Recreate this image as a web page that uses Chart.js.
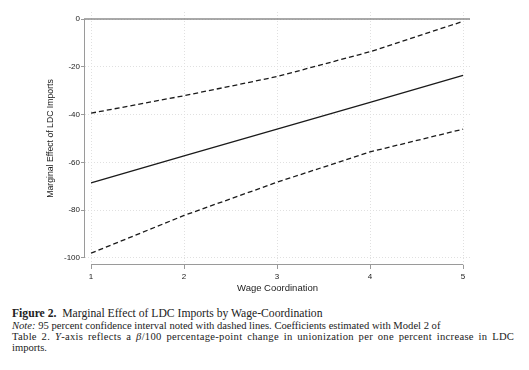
<!DOCTYPE html>
<html>
<head>
<meta charset="utf-8">
<script src="https://cdn.jsdelivr.net/npm/chart.js@4.4.1/dist/chart.umd.min.js"></script>
<style>
  html, body { margin: 0; padding: 0; background: #fff; }
  #wrap { position: relative; width: 529px; height: 370px; overflow: hidden; }
  #box { position: absolute; left: 0; top: 0; width: 529px; height: 300px; }
  #cap { position: absolute; left: 12px; top: 307px; width: 517px; font-family: "Liberation Serif", serif; color: #222; white-space: nowrap; }
  #cap .t { font-size: 11.65px; line-height: 13px; }
  #cap .n { font-size: 10.6px; line-height: 11px; }
  #cap .wide { letter-spacing: 0.3px; word-spacing: 1.8px; }
</style>
</head>
<body>
<div id="wrap">
  <div id="box"><canvas id="c"></canvas></div>
  <div id="cap">
    <div class="t"><b>Figure 2.</b>&nbsp; Marginal Effect of LDC Imports by Wage-Coordination</div>
    <div class="n"><i>Note:</i> 95 percent confidence interval noted with dashed lines. Coefficients estimated with Model 2 of</div>
    <div class="n wide">Table 2. <i>Y</i>-axis reflects a <i>&beta;</i>/100 percentage-point change in unionization per one percent increase in LDC</div>
    <div class="n">imports.</div>
  </div>
</div>
<script>
const wageCoordination = [1, 2, 3, 4, 5];
const marginalEffect = [-68.6, -57.3, -46.1, -34.9, -23.6];
const upperCI = [-39.4, -32.1, -24.1, -13.7, -1.0];
const lowerCI = [-98.0, -82.2, -68.3, -55.6, -46.1];
const xTicks = [1, 2, 3, 4, 5];
const yTicks = [0, -20, -40, -60, -80, -100];

const toPts = (ys) => wageCoordination.map((x, i) => ({ x: x, y: ys[i] }));

const axisPlugin = {
  id: 'stataAxes',
  afterDatasetsDraw(chart) {
    const { ctx, chartArea, scales } = chart;
    const xs = scales.x, ys = scales.y;
    ctx.save();
    ctx.strokeStyle = '#8c8c8c';
    ctx.lineWidth = 1.5;
    const y0 = ys.getPixelForValue(0);
    ctx.beginPath();
    ctx.moveTo(chartArea.left - 1, y0);
    ctx.lineTo(chartArea.right, y0);
    ctx.stroke();
    ctx.strokeStyle = '#9a9a9a';
    ctx.lineWidth = 1;
    ctx.beginPath();
    const lx = Math.round(chartArea.left) - 0.5;
    ctx.moveTo(lx, ys.getPixelForValue(yTicks[0]));
    ctx.lineTo(lx, ys.getPixelForValue(yTicks[yTicks.length - 1]));
    const by = Math.round(chartArea.bottom) - 0.5;
    ctx.moveTo(xs.getPixelForValue(xTicks[0]), by);
    ctx.lineTo(xs.getPixelForValue(xTicks[xTicks.length - 1]), by);
    ctx.stroke();
    ctx.restore();
  }
};

const tickFont = { family: 'Liberation Sans, Arial, sans-serif', size: 8 };

new Chart(document.getElementById('c'), {
  type: 'line',
  data: {
    datasets: [
      { label: 'Upper 95% CI', data: toPts(upperCI), borderColor: '#1a1a1a', borderWidth: 1.3, borderDash: [5, 3], pointRadius: 0, fill: false, tension: 0 },
      { label: 'Marginal effect', data: toPts(marginalEffect), borderColor: '#1a1a1a', borderWidth: 1.3, pointRadius: 0, fill: false, tension: 0 },
      { label: 'Lower 95% CI', data: toPts(lowerCI), borderColor: '#1a1a1a', borderWidth: 1.3, borderDash: [5, 3], pointRadius: 0, fill: false, tension: 0 }
    ]
  },
  options: {
    responsive: true,
    maintainAspectRatio: false,
    animation: false,
    layout: { padding: { left: 0, right: 59, top: 12, bottom: 0 } },
    plugins: { legend: { display: false }, tooltip: { enabled: false } },
    scales: {
      x: {
        type: 'linear',
        min: 0.935,
        max: 5.075,
        afterBuildTicks: (s) => { s.ticks = xTicks.map(v => ({ value: v })); },
        afterFit: (s) => { s.height = 35; },
        border: { display: false, dash: [1, 2] },
        grid: { color: '#e0e0e0', lineWidth: 1, tickColor: '#9a9a9a', tickLength: 4, tickBorderDash: [] },
        ticks: { font: tickFont, color: '#222', padding: 3, maxRotation: 0, callback: (v) => String(v) },
        title: { display: true, text: 'Wage Coordination', font: { family: 'Liberation Sans, Arial, sans-serif', size: 9.5 }, color: '#222', padding: { top: 0, bottom: 6 } }
      },
      y: {
        type: 'linear',
        min: -102.93,
        max: 2.93,
        afterBuildTicks: (s) => { s.ticks = yTicks.map(v => ({ value: v })); },
        afterFit: (s) => { s.width = 85; },
        border: { display: false, dash: [1, 2] },
        grid: { color: '#e0e0e0', lineWidth: 1, tickColor: '#9a9a9a', tickLength: 4, tickBorderDash: [] },
        ticks: { font: tickFont, color: '#222', padding: 1, callback: (v) => String(v) },
        title: { display: true, text: 'Marginal Effect of LDC Imports', font: { family: 'Liberation Sans, Arial, sans-serif', size: 8.7 }, color: '#222', padding: { top: 45, bottom: 0 } }
      }
    }
  },
  plugins: [axisPlugin]
});
</script>
</body>
</html>
